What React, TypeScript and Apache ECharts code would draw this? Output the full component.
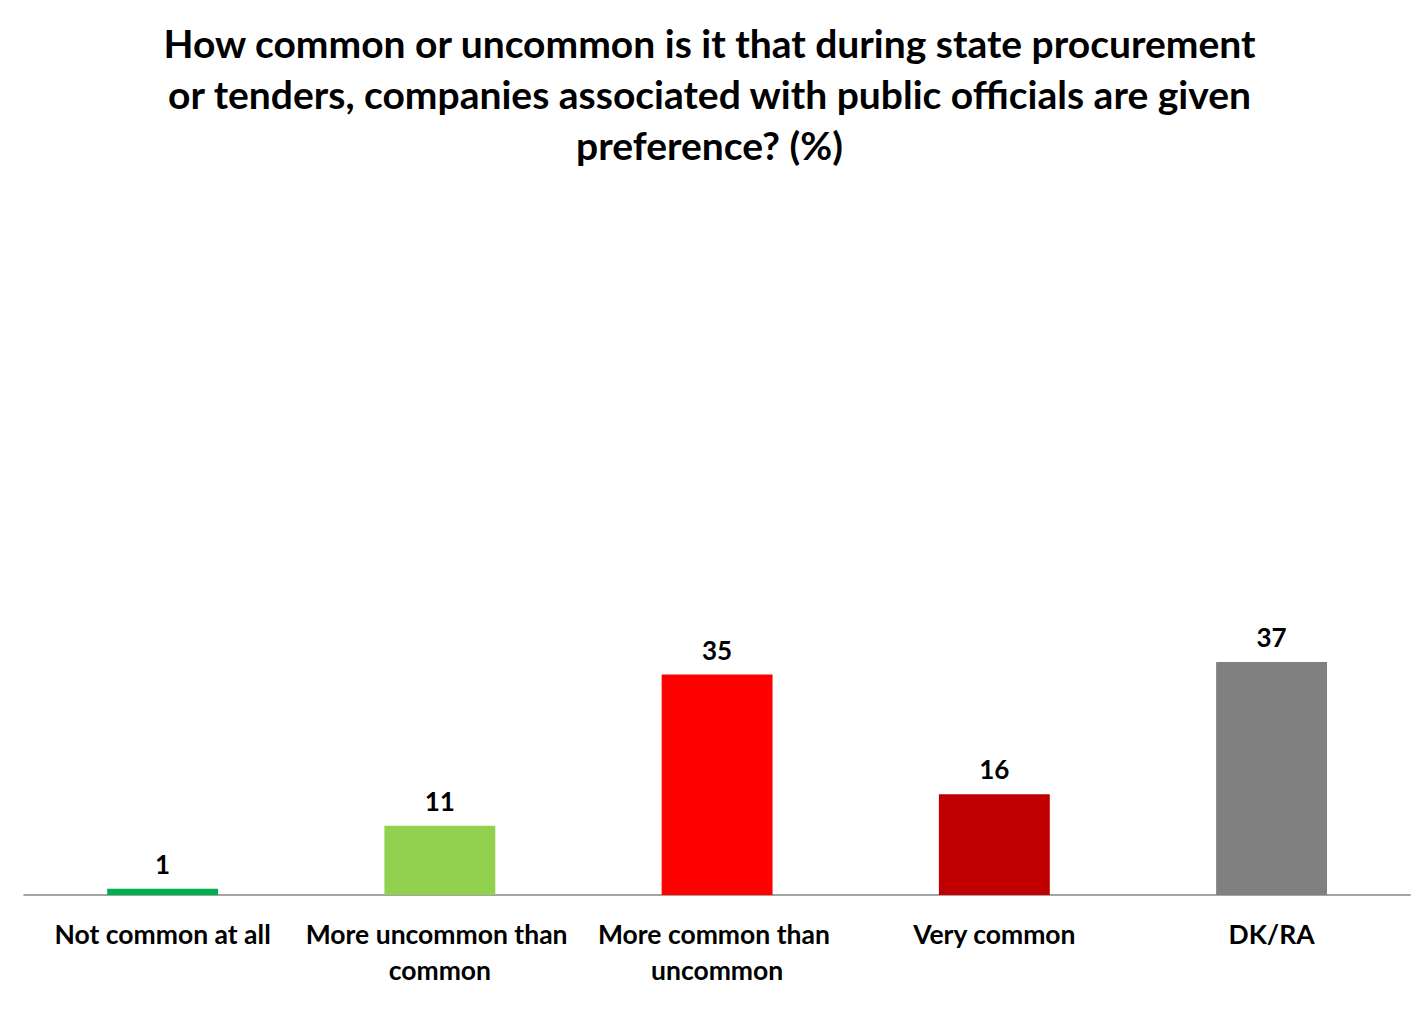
import React, { useEffect, useRef } from "react";
import * as echarts from "echarts";

const titleLines = [
  "How common or uncommon is it that during state procurement",
  "or tenders, companies associated with public officials are given",
  "preference? (%)",
];
const categories = [
  "Not common at all",
  "More uncommon than common",
  "More common than uncommon",
  "Very common",
  "DK/RA",
];
const values = [1, 11, 35, 16, 37];
const colors = ["#00B050", "#92D050", "#FF0000", "#C00000", "#808080"];

const FONT = "Lato, 'Open Sans', sans-serif";

export default function App() {
  const ref = useRef<HTMLDivElement>(null);
  useEffect(() => {
    if (!ref.current) return;
    const chart = echarts.init(ref.current, undefined, { renderer: "svg" });
    chart.setOption({
      animation: false,
      backgroundColor: "#ffffff",
      title: {
        text: titleLines.join("\n"),
        left: "center",
        top: 12,
        textStyle: {
          fontFamily: FONT,
          fontWeight: "bold",
          fontSize: 39,
          lineHeight: 51,
          color: "#000000",
        },
      },
      grid: { left: 24, right: 3, top: 265, bottom: 136, containLabel: false },
      xAxis: {
        type: "category",
        data: categories,
        axisLine: { show: true, lineStyle: { color: "#868686", width: 1.5 } },
        axisTick: { show: false },
        axisLabel: {
          interval: 0,
          margin: 21,
          width: 290,
          overflow: "break",
          fontFamily: FONT,
          fontWeight: "bold",
          fontSize: 26.5,
          lineHeight: 36,
          color: "#000000",
        },
      },
      yAxis: {
        type: "value",
        min: 0,
        max: 100,
        show: false,
        splitLine: { show: false },
      },
      series: [
        {
          type: "bar",
          barWidth: "40%",
          data: values.map((v, i) => ({ value: v, itemStyle: { color: colors[i] } })),
          label: {
            show: true,
            position: "top",
            distance: 12,
            fontFamily: FONT,
            fontWeight: "bold",
            fontSize: 26,
            color: "#000000",
          },
        },
      ],
    });
    return () => chart.dispose();
  }, []);
  return (
    <div
      ref={ref}
      style={{ position: "fixed", left: 0, top: 0, width: 1419, height: 1031 }}
    />
  );
}
